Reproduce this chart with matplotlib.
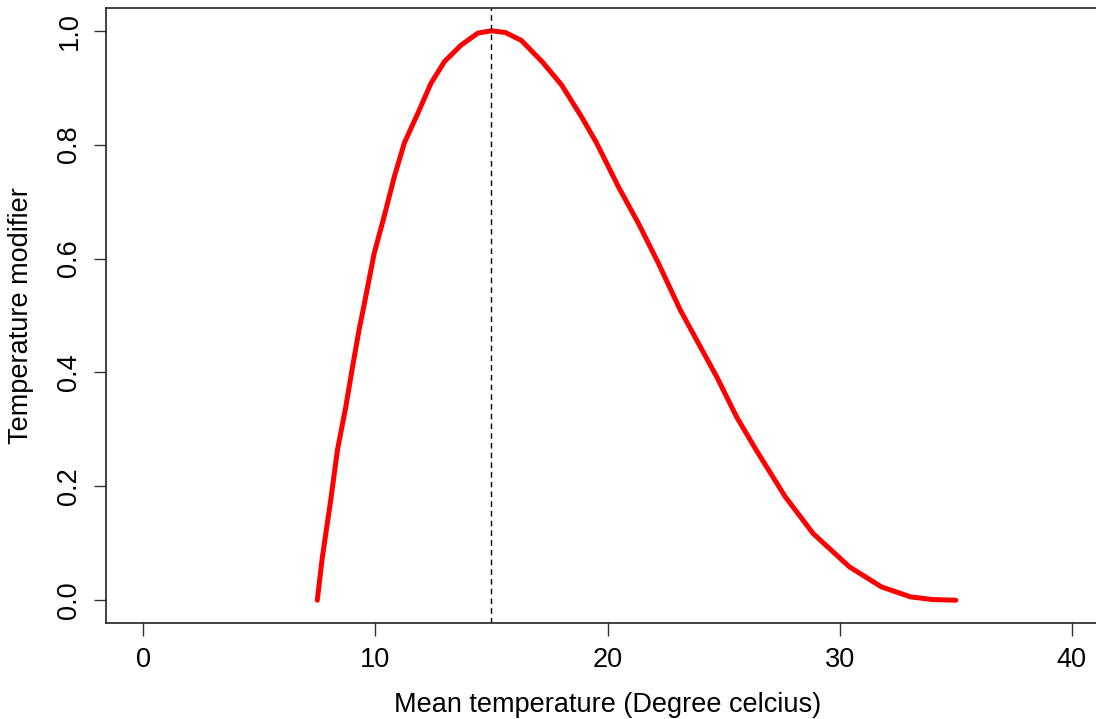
import matplotlib
matplotlib.use("Agg")
import matplotlib.pyplot as plt

# values
temp = [7.5, 7.72, 8.08, 8.37, 8.73, 9.02, 9.3, 9.5, 9.95, 10.38, 10.82,
        11.25, 11.83, 12.4, 12.98, 13.7, 14.42, 15.0, 15.6, 16.29, 17.2,
        18.02, 18.88, 19.53, 20.47, 21.33, 22.19, 23.13, 24.24, 24.71, 25.56,
        26.4, 27.65, 28.86, 30.42, 31.8, 33.05, 34.0, 35.0]
modifier = [0.0, 0.076, 0.176, 0.264, 0.34, 0.41, 0.475, 0.515, 0.609, 0.674, 0.744,
            0.803, 0.855, 0.908, 0.946, 0.975, 0.996, 1.0, 0.997, 0.983, 0.945,
            0.905, 0.849, 0.803, 0.726, 0.662, 0.592, 0.51, 0.427, 0.392, 0.322,
            0.264, 0.182, 0.117, 0.0586, 0.0234, 0.0059, 0.0012, 0.0]
t_opt = 15

xticks = [0, 10, 20, 30, 40]
yticks = [0.0, 0.2, 0.4, 0.6, 0.8, 1.0]

plt.rcParams['font.family'] = ['Liberation Sans', 'DejaVu Sans']
fs = 19.5

fig = plt.figure(figsize=(10.96, 7.19), dpi=100)
W, H = 1096, 719
ax = fig.add_axes([106 / W, (H - 623) / H, 1003 / W, 615 / H])

ax.plot(temp, modifier, color='red', lw=3.6, solid_joinstyle='round', solid_capstyle='round')
ax.axvline(t_opt, color='black', lw=1.0, linestyle=(0, (4, 3)))

ax.set_xlim(-1.6, 41.6)
ax.set_ylim(-0.04, 1.04)
ax.set_xticks(xticks)
ax.set_xticklabels([str(v) for v in xticks])
ax.set_yticks(yticks)
ax.set_yticklabels(['%.1f' % v for v in yticks], rotation=90, va='center')
ax.tick_params(direction='out', length=9, width=1, labelsize=fs, pad=8, color='#333333')

for s in ax.spines.values():
    s.set_linewidth(1.2)
    s.set_color('#222222')

ax.set_xlabel('Mean temperature (Degree celcius)', fontsize=fs, labelpad=14)
ax.set_ylabel('Temperature modifier', fontsize=fs, labelpad=16)

fig.savefig('out.png', dpi=100)
